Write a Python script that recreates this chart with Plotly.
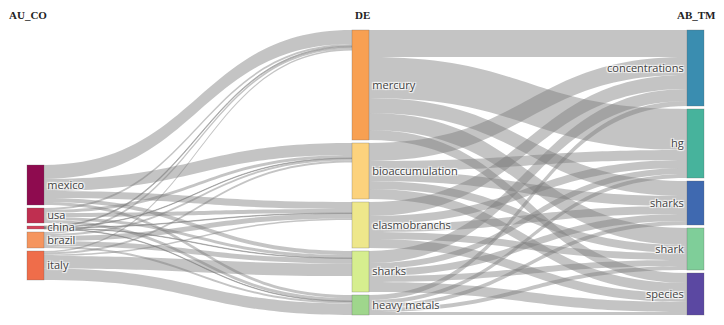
import plotly.graph_objects as go

# ---------------- data ----------------
countries = ["mexico", "usa", "china", "brazil", "italy"]
keywords = ["mercury", "bioaccumulation", "elasmobranchs", "sharks", "heavy metals"]
topics = ["concentrations", "hg", "sharks", "shark", "species"]

# country -> keyword flows (rows: countries, cols: keywords)
country_keyword = [
    [14.0, 12.0, 7.0, 4.0, 3.0],    # mexico
    [2.0, 3.0, 4.0, 3.0, 3.0],      # usa
    [1.0, 0.5, 0.5, 0.5, 0.5],      # china
    [2.0, 2.0, 5.0, 5.0, 2.0],      # brazil
    [1.5, 2.0, 1.5, 12.5, 11.5],    # italy
]

# keyword -> topic flows (rows: keywords, cols: topics)
keyword_topic = [
    [27, 41, 15, 17, 10],   # mercury
    [18, 10, 10, 8, 10],    # bioaccumulation
    [14, 8, 8, 7, 9],       # elasmobranchs
    [12, 6, 7, 6, 10],      # sharks
    [5, 4, 4, 4, 3],        # heavy metals
]

column_titles = ["AU_CO", "DE", "AB_TM"]

country_colors = ["#8e0b4f", "#bf2f50", "#d4445a", "#f5955e", "#ef6d4a"]
keyword_colors = ["#f8a052", "#fcd27d", "#eee78b", "#d6ee8f", "#9fd68c"]
topic_colors = ["#3a8db0", "#47b39c", "#3f69b0", "#7fce99", "#5b48a2"]

# ---------------- layout constants ----------------
W, H = 724, 325
ML, MR, MT, MB = 27, 20, 30, 10
PW = W - ML - MR
PH = H - MT - MB
THICK = 17
PAD = 3
LEFT_OFFSET = 135  # px from top of plot area where the first column begins

labels = countries + keywords + topics
colors = country_colors + keyword_colors + topic_colors

src, tgt, val = [], [], []
nc, nk = len(countries), len(keywords)
for i, row in enumerate(country_keyword):
    for j, v in enumerate(row):
        if v > 0:
            src.append(i); tgt.append(nc + j); val.append(v)
for i, row in enumerate(keyword_topic):
    for j, v in enumerate(row):
        if v > 0:
            src.append(nc + i); tgt.append(nc + nk + j); val.append(v)

# node sizes (max of in/out)
n = len(labels)
inflow = [0.0] * n
outflow = [0.0] * n
for s, t, v in zip(src, tgt, val):
    outflow[s] += v
    inflow[t] += v
size = [max(a, b) for a, b in zip(inflow, outflow)]

def stack(idx, offset):
    ys = []
    y = offset
    for k in idx:
        ys.append((y + size[k] / 2) / PH)
        y += size[k] + PAD
    return ys

col_x = [THICK / 2 / PW, (352 - ML + THICK / 2) / PW, 1 - THICK / 2 / PW]
xs = [col_x[0]] * nc + [col_x[1]] * nk + [col_x[2]] * len(topics)
ys = stack(range(nc), LEFT_OFFSET) + stack(range(nc, nc + nk), 0) + \
    stack(range(nc + nk, n), 0)

fig = go.Figure(go.Sankey(
    arrangement="snap",
    node=dict(
        label=labels,
        color=colors,
        x=xs,
        y=ys,
        pad=PAD,
        thickness=THICK,
        line=dict(color="rgba(90,90,90,0.45)", width=0.6),
    ),
    link=dict(source=src, target=tgt, value=val,
              color="rgba(125,125,125,0.45)"),
    textfont=dict(family="Open Sans", size=11, color="#444"),
))

title_pos = [((7 - ML) / PW, "left"), ((353 - ML) / PW, "left"), ((718 - ML) / PW, "right")]
for t, (x, anchor) in zip(column_titles, title_pos):
    fig.add_annotation(
        text=f"<b>{t}</b>", x=x, y=1 + (MT - 15) / PH, xref="paper", yref="paper",
        xanchor=anchor, yanchor="middle", showarrow=False,
        font=dict(family="Liberation Serif", size=11, color="#222"),
    )

fig.update_layout(
    width=W, height=H,
    margin=dict(l=ML, r=MR, t=MT, b=MB),
    paper_bgcolor="white",
    plot_bgcolor="white",
)

fig.write_html("out.html")
